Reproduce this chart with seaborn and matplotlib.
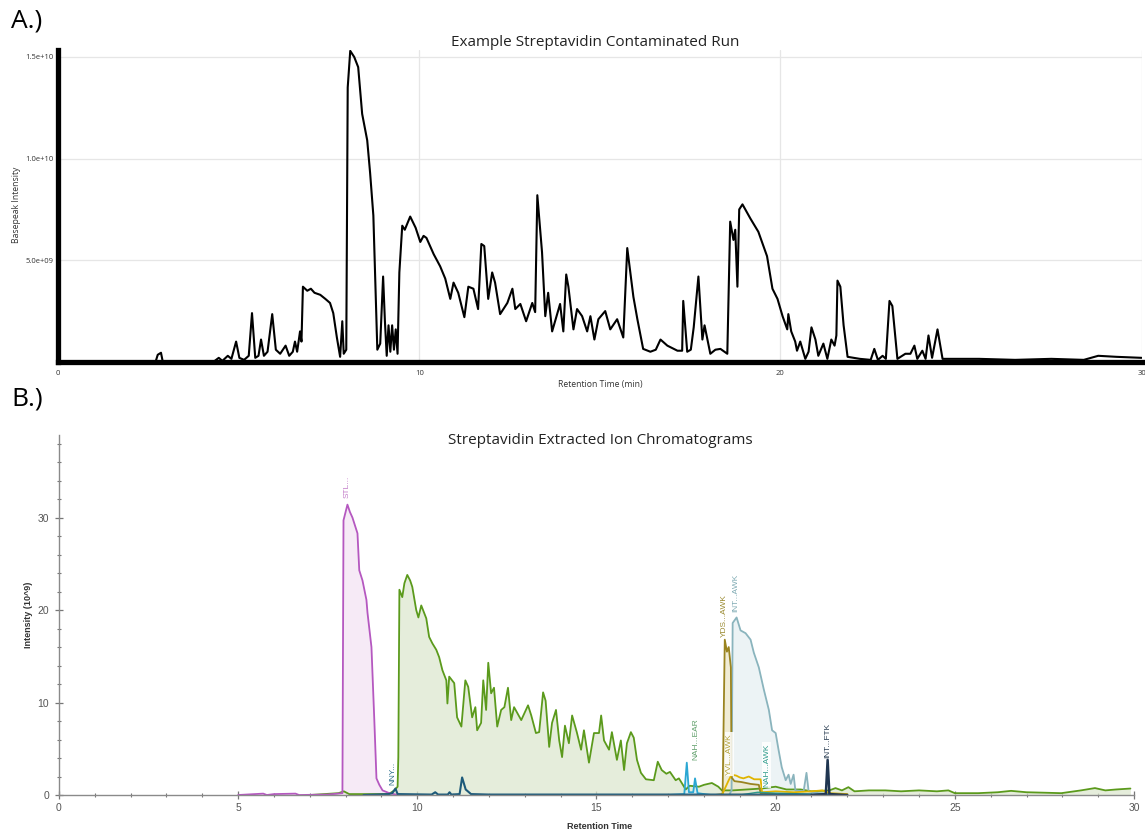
"""Streptavidin contaminated run: basepeak trace (A) and extracted ion chromatograms (B)."""

import matplotlib

matplotlib.use("Agg")
import matplotlib.pyplot as plt
import pandas as pd
import seaborn as sns
from matplotlib.ticker import MultipleLocator

# --- data: (retention time min, intensity 1e9) ---
basepeak = [
    (0, 0), (2.70, 0), (2.76, 0.35), (2.85, 0.45), (2.90, 0), (4.30, 0), (4.45, 0.2), (4.55, 0.05),
    (4.70, 0.3), (4.80, 0.15), (4.93, 1.0), (5.02, 0.2), (5.15, 0.1), (5.28, 0.3), (5.37, 2.4),
    (5.46, 0.2), (5.55, 0.3), (5.62, 1.1), (5.70, 0.3), (5.80, 0.5), (5.93, 2.35), (6.03, 0.6),
    (6.15, 0.4), (6.30, 0.8), (6.40, 0.3), (6.50, 0.5), (6.56, 1.0), (6.62, 0.5), (6.70, 1.5),
    (6.74, 1.0), (6.78, 3.7), (6.90, 3.5), (7.00, 3.6), (7.10, 3.4), (7.26, 3.3), (7.40, 3.1),
    (7.53, 2.9), (7.62, 2.4), (7.72, 1.2), (7.81, 0.25), (7.87, 2.0), (7.91, 0.4), (7.98, 0.6),
    (8.02, 13.5), (8.09, 15.3), (8.20, 15.0), (8.31, 14.5), (8.42, 12.2), (8.56, 10.9), (8.64, 9.3),
    (8.73, 7.2), (8.84, 0.6), (8.92, 0.9), (9.00, 4.2), (9.05, 2.0), (9.10, 0.3), (9.15, 1.8),
    (9.20, 0.5), (9.25, 1.8), (9.30, 0.6), (9.35, 1.6), (9.40, 0.4), (9.45, 4.4), (9.53, 6.7),
    (9.60, 6.5), (9.75, 7.15), (9.90, 6.6), (10.03, 5.9), (10.12, 6.2), (10.20, 6.1), (10.40, 5.3),
    (10.58, 4.7), (10.72, 4.1), (10.86, 3.1), (10.95, 3.9), (11.08, 3.4), (11.25, 2.2), (11.36, 3.7),
    (11.50, 3.6), (11.63, 2.6), (11.72, 5.8), (11.80, 5.7), (11.91, 3.1), (12.02, 4.4), (12.10, 3.9),
    (12.24, 2.35), (12.44, 2.9), (12.58, 3.6), (12.66, 2.6), (12.80, 2.85), (12.96, 2.0), (13.13, 2.9),
    (13.21, 2.45), (13.27, 8.2), (13.40, 5.4), (13.49, 2.25), (13.57, 3.4), (13.68, 1.5), (13.90, 2.85),
    (13.99, 1.5), (14.07, 4.3), (14.13, 3.7), (14.27, 1.6), (14.37, 2.6), (14.51, 2.25), (14.65, 1.5),
    (14.74, 2.25), (14.85, 1.1), (14.96, 2.1), (15.15, 2.5), (15.29, 1.6), (15.48, 2.1), (15.65, 1.2),
    (15.76, 5.6), (15.93, 3.2), (16.04, 2.1), (16.20, 0.64), (16.40, 0.5), (16.55, 0.6), (16.68, 1.1),
    (16.87, 0.8), (17.15, 0.55), (17.28, 0.55), (17.31, 3.0), (17.42, 0.5), (17.52, 0.6), (17.60, 1.7),
    (17.73, 4.2), (17.84, 1.1), (17.90, 1.8), (18.06, 0.4), (18.20, 0.6), (18.34, 0.64), (18.53, 0.4),
    (18.61, 6.9), (18.70, 6.0), (18.75, 6.5), (18.81, 3.7), (18.86, 7.5), (18.95, 7.75), (19.17, 7.05),
    (19.39, 6.4), (19.63, 5.2), (19.78, 3.6), (19.92, 3.1), (20.06, 2.25), (20.19, 1.6), (20.22, 2.35),
    (20.30, 1.5), (20.41, 1.0), (20.46, 0.55), (20.55, 1.0), (20.69, 0.15), (20.78, 0.5), (20.86, 1.7),
    (20.97, 1.1), (21.05, 0.3), (21.19, 0.9), (21.30, 0.15), (21.41, 1.1), (21.50, 0.8), (21.55, 1.3),
    (21.58, 4.0), (21.66, 3.7), (21.75, 1.8), (21.86, 0.25), (22.20, 0.15), (22.50, 0.1), (22.60, 0.64),
    (22.70, 0.1), (22.83, 0.3), (22.92, 0.15), (23.02, 3.0), (23.10, 2.75), (23.24, 0.15), (23.46, 0.4),
    (23.60, 0.4), (23.71, 0.8), (23.79, 0.15), (23.93, 0.55), (24.02, 0.15), (24.10, 1.3), (24.20, 0.2),
    (24.35, 1.6), (24.49, 0.15), (25.50, 0.15), (26.50, 0.1), (27.50, 0.15), (28.40, 0.1), (28.80, 0.3),
    (29.30, 0.25), (30.00, 0.2),
]

xic_stl = [
    (5.0, 0), (5.7, 0.15), (5.8, 0), (6.0, 0.1), (6.6, 0.15), (6.7, 0), (7.5, 0.05), (7.91, 0.2),
    (7.94, 29.7), (8.05, 31.4), (8.12, 30.6), (8.19, 30.0), (8.33, 28.3), (8.38, 24.3), (8.47, 23.2),
    (8.58, 21.1), (8.61, 19.7), (8.72, 16.0), (8.80, 8.1), (8.86, 1.8), (8.94, 1.1), (9.03, 0.5),
    (9.22, 0.2), (9.40, 0.05), (9.5, 0),
]

xic_green = [
    (7.0, 0), (7.8, 0.2), (7.95, 0.4), (8.1, 0.1), (9.20, 0.1), (9.36, 0.5), (9.45, 0.9), (9.47, 4.1),
    (9.50, 22.2), (9.58, 21.4), (9.64, 22.9), (9.72, 23.8), (9.80, 23.2), (9.86, 22.5), (9.97, 20.0),
    (10.03, 19.2), (10.11, 20.5), (10.18, 19.8), (10.25, 19.1), (10.33, 17.1), (10.42, 16.4),
    (10.53, 15.7), (10.61, 14.9), (10.70, 13.5), (10.81, 12.4), (10.84, 9.9), (10.89, 12.8),
    (11.03, 12.1), (11.11, 8.4), (11.23, 7.4), (11.34, 12.4), (11.42, 11.7), (11.53, 8.4), (11.62, 9.5),
    (11.67, 7.0), (11.78, 7.8), (11.84, 12.4), (11.92, 9.2), (11.98, 14.3), (12.06, 11.0), (12.14, 11.6),
    (12.23, 7.4), (12.34, 9.2), (12.43, 9.5), (12.53, 11.6), (12.62, 8.1), (12.70, 9.5), (12.80, 8.8),
    (12.90, 8.1), (13.09, 9.7), (13.18, 8.6), (13.31, 6.7), (13.40, 6.8), (13.51, 11.1), (13.58, 10.2),
    (13.68, 5.2), (13.76, 7.8), (13.87, 9.2), (13.96, 5.9), (14.04, 4.1), (14.12, 7.5), (14.23, 5.6),
    (14.32, 8.6), (14.45, 6.8), (14.57, 4.9), (14.65, 7.0), (14.79, 3.5), (14.93, 6.7), (15.07, 6.7),
    (15.13, 8.6), (15.21, 5.9), (15.35, 4.9), (15.43, 6.8), (15.57, 3.8), (15.68, 5.9), (15.77, 2.7),
    (15.85, 5.6), (15.96, 6.8), (16.04, 6.2), (16.13, 3.8), (16.24, 2.4), (16.38, 1.7), (16.60, 1.6),
    (16.71, 3.6), (16.82, 2.7), (16.95, 2.3), (17.05, 2.5), (17.21, 1.6), (17.30, 1.8), (17.38, 1.3),
    (17.49, 0.6), (17.60, 1.0), (17.86, 0.9), (18.00, 1.1), (18.22, 1.3), (18.40, 0.9), (18.50, 0.5),
    (18.80, 0.5), (19.20, 0.6), (19.60, 0.7), (20.00, 0.9), (20.30, 0.6), (20.70, 0.6), (21.00, 0.4),
    (21.50, 0.5), (21.67, 0.75), (21.85, 0.5), (22.03, 0.85), (22.20, 0.4), (22.60, 0.5), (23.06, 0.5),
    (23.50, 0.4), (24.00, 0.5), (24.50, 0.4), (24.82, 0.5), (25.00, 0.2), (25.65, 0.2), (26.20, 0.3),
    (26.57, 0.45), (27.00, 0.3), (27.50, 0.25), (27.97, 0.2), (28.52, 0.5), (28.91, 0.75), (29.20, 0.5),
    (29.50, 0.6), (29.90, 0.7),
]

xic_nny = [
    (8.5, 0), (9.2, 0.1), (9.30, 0.2), (9.39, 0.7), (9.45, 0.1), (10.40, 0.05), (10.50, 0.3),
    (10.58, 0.05), (10.85, 0.05), (10.90, 0.3), (10.95, 0.05), (11.18, 0.1), (11.25, 1.9),
    (11.35, 0.6), (11.50, 0.1), (12.0, 0.05), (21.5, 0.05),
]
xic_nah_ear = [(17.0, 0), (17.45, 0.1), (17.52, 3.5), (17.58, 0.3), (17.70, 0.3), (17.75, 1.8),
               (17.82, 0.2), (18.2, 0.0)]
xic_yds = [(18.3, 0), (18.52, 0.1), (18.58, 16.8), (18.64, 15.5), (18.69, 16.0), (18.75, 13.8),
           (18.77, 1.9), (18.85, 1.5), (19.05, 1.4), (19.30, 1.2), (19.53, 1.1), (19.58, 0.2), (20.0, 0.1)]
xic_yvl = [(18.5, 0), (18.69, 1.6), (18.77, 2.2), (18.90, 2.1), (19.00, 1.9), (19.10, 1.8), (19.25, 2.0),
           (19.40, 1.7), (19.58, 1.7), (19.62, 0.3), (20.0, 0.4), (20.5, 0.3), (21.0, 0.4), (21.3, 0.5),
           (21.5, 0.2), (22.0, 0.1)]
xic_int_awk = [(18.70, 0), (18.77, 0.5), (18.80, 18.6), (18.91, 19.2), (19.02, 17.8), (19.16, 17.5),
               (19.30, 16.8), (19.39, 15.4), (19.53, 13.8), (19.67, 11.4), (19.81, 9.2), (19.90, 7.0),
               (20.00, 6.7), (20.08, 4.9), (20.17, 3.0), (20.28, 1.6), (20.36, 2.2), (20.42, 1.2),
               (20.50, 2.2), (20.55, 0.5), (20.78, 0.4), (20.86, 2.4), (20.92, 0.4), (21.2, 0.2), (22.0, 0.1)]
xic_nah_awk = [(19.0, 0), (19.5, 0.3), (20.0, 0.2), (21.0, 0.1)]
xic_int_ftk = [(21.0, 0), (21.40, 0.1), (21.45, 3.8), (21.50, 0.1), (22.0, 0)]

# peptide labels: text, time, intensity at text foot
peptide_labels = [
    ("STL...", 8.05, 32.1), ("NNY...", 9.33, 1.1), ("NAH...EAR", 17.77, 3.8), ("YDS...AWK", 18.58, 17.1),
    ("INT...AWK", 18.88, 19.8), ("YVL...AWK", 18.72, 2.2), ("NAH...AWK", 19.75, 0.9), ("INT...FTK", 21.45, 4.0),
]

a_yticks = [5e9, 1e10, 1.5e10]
a_yticklabels = ["5.0e+09", "1.0e+10", "1.5e+10"]
a_xticks = [0, 10, 20, 30]
b_xticks = [0, 5, 10, 15, 20, 25, 30]
b_yticks = [0, 10, 20, 30]

sns.set_theme(style="white")
plt.rcParams["font.family"] = ["Open Sans", "DejaVu Sans"]
ARIAL = ["Liberation Sans", "DejaVu Sans"]


def frame(pairs):
    return pd.DataFrame(pairs, columns=["time", "intensity"])


fig = plt.figure(figsize=(11.45, 8.31), dpi=100)

# ---------------- Panel A ----------------
axA = fig.add_axes([0.0507, 0.5645, 0.9463, 0.3755])
dA = frame(basepeak)
dA["intensity"] = dA["intensity"] * 1e9
sns.lineplot(data=dA, x="time", y="intensity", ax=axA, color="black", linewidth=1.5,
             estimator=None, sort=False)
axA.set_xlim(0, 30)
axA.set_ylim(0, 1.535e10)
axA.set_xticks(a_xticks)
axA.set_xticklabels([str(t) for t in a_xticks], fontsize=5.5, color="#333333")
axA.set_yticks(a_yticks)
axA.set_yticklabels(a_yticklabels, fontsize=5.5, color="#333333")
axA.tick_params(axis="x", length=0, pad=6)
axA.tick_params(axis="y", length=0, pad=3)
axA.grid(True, color="#e6e6e6", linewidth=0.9)
for side in ("top", "right"):
    axA.spines[side].set_visible(False)
for side in ("left", "bottom"):
    axA.spines[side].set_color("black")
    axA.spines[side].set_linewidth(3.8)
axA.set_xlabel("")
axA.set_ylabel("")
fig.text(0.524, 0.537, "Retention Time (min)", ha="center", va="center", fontsize=6.2, color="#333333")
fig.text(0.014, 0.753, "Basepeak Intensity", ha="center", va="center", rotation=90, fontsize=6.2,
         color="#333333")
fig.text(0.52, 0.949, "Example Streptavidin Contaminated Run", ha="center", va="center", fontsize=11,
         color="#222222")
fig.text(0.01, 0.99, "A.)", ha="left", va="top", fontsize=19, color="black")

# ---------------- Panel B ----------------
axB = fig.add_axes([0.0515, 0.0433, 0.9389, 0.4329])
traces = [
    (xic_green, "#5b9a1c", "#dde8cf", 1.3),
    (xic_stl, "#b558c0", "#f3e3f3", 1.3),
    (xic_int_awk, "#8ab4bd", "#e6f0f2", 1.3),
    (xic_yds, "#9a8420", "#ebe6c8", 1.3),
    (xic_yvl, "#e0b400", None, 1.3),
    (xic_nah_awk, "#2f9c8c", None, 1.0),
    (xic_nah_ear, "#2ba7d3", "#d6eef6", 1.3),
    (xic_nny, "#1d5a7a", None, 1.5),
    (xic_int_ftk, "#1f3550", None, 1.8),
]
for pairs, col, fill, lw in traces:
    d = frame(pairs)
    if fill is not None:
        axB.fill_between(d["time"], 0, d["intensity"], color=fill, alpha=0.75, linewidth=0)
    sns.lineplot(data=d, x="time", y="intensity", ax=axB, color=col, linewidth=lw,
                 estimator=None, sort=False)

label_colors = {
    "STL...": "#c27cc8", "NNY...": "#2e6f8c", "NAH...EAR": "#5f9f6a", "YDS...AWK": "#9a8a30",
    "INT...AWK": "#7faab3", "YVL...AWK": "#b3a23a", "NAH...AWK": "#2f9c8c", "INT...FTK": "#2a3d52",
}
for text, t, v in peptide_labels:
    box = None
    if text in ("YVL...AWK", "NAH...AWK"):
        box = dict(facecolor="white", edgecolor="none", pad=0.6, alpha=0.85)
    axB.text(t, v, text, rotation=90, ha="center", va="bottom", fontsize=6,
             color=label_colors[text], family=ARIAL, bbox=box)

axB.set_xlim(0, 30)
axB.set_ylim(0, 38.9)
axB.set_xticks(b_xticks)
axB.set_xticklabels([str(t) for t in b_xticks], fontsize=7.5, color="#555555", family=ARIAL)
axB.set_yticks(b_yticks)
axB.set_yticklabels([str(t) for t in b_yticks], fontsize=7.5, color="#555555", family=ARIAL)
axB.xaxis.set_minor_locator(MultipleLocator(1))
axB.yaxis.set_minor_locator(MultipleLocator(2))
axB.tick_params(axis="x", which="major", direction="inout", length=6, width=0.9, color="#777777",
                bottom=True, pad=3)
axB.tick_params(axis="x", which="minor", direction="inout", length=3.5, width=0.8, color="#777777",
                bottom=True)
axB.tick_params(axis="y", which="major", direction="inout", length=6, width=0.9, color="#777777",
                left=True, pad=4)
axB.tick_params(axis="y", which="minor", direction="inout", length=3, width=0.8, color="#777777",
                left=True)
for side in ("top", "right"):
    axB.spines[side].set_visible(False)
for side in ("left", "bottom"):
    axB.spines[side].set_color("#8a8a8a")
    axB.spines[side].set_linewidth(1.0)
axB.set_xlabel("")
axB.set_ylabel("")
fig.text(0.524, 0.006, "Retention Time", ha="center", va="center", fontsize=6.5, fontweight="bold",
         color="#333333", family=ARIAL)
fig.text(0.0245, 0.26, "Intensity (10^9)", ha="center", va="center", rotation=90, fontsize=6.5,
         fontweight="bold", color="#333333", family=ARIAL)
fig.text(0.524, 0.47, "Streptavidin Extracted Ion Chromatograms", ha="center", va="center",
         fontsize=11, color="#222222")
fig.text(0.01, 0.535, "B.)", ha="left", va="top", fontsize=19, color="black")

fig.savefig("out.png", dpi=100, facecolor="white")
plt.close(fig)
